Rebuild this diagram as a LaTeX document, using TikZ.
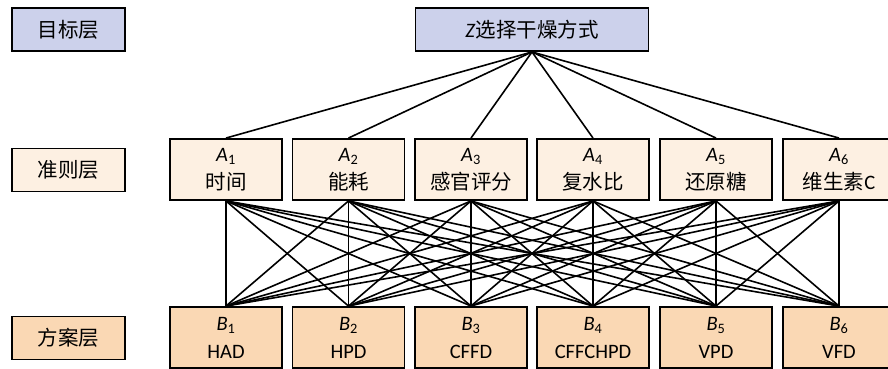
\documentclass[tikz,border=0pt]{standalone}
\usepackage{fontspec}
\setmainfont{Carlito}
\newfontfamily\cjk{Noto Sans CJK SC}
\definecolor{goalfill}{RGB}{204,209,235}
\definecolor{critfill}{RGB}{253,240,226}
\definecolor{altfill}{RGB}{250,216,180}
\begin{document}
\begin{tikzpicture}[x=1pt,y=-1pt,
  box/.style={draw=black,line width=1.9pt,inner sep=0pt,align=center,
    font=\fontsize{20.5}{28}\selectfont},
  lbl/.style={box,minimum width=113pt,minimum height=43pt},
  goal/.style={box,fill=goalfill,minimum width=233pt,minimum height=43pt},
  crit/.style={box,fill=critfill,minimum width=112pt,minimum height=61pt},
  alt/.style={box,fill=altfill,minimum width=112pt,minimum height=61pt},
  link/.style={line width=1.6pt,draw=black}]
\useasboundingbox (0,0) rectangle (888,369);
% left labels
\node[lbl,fill=goalfill] (lg) at (68.5,29.5) {\cjk 目标层};
\node[lbl,fill=critfill] (lc) at (68.5,170) {\cjk 准则层};
\node[lbl,fill=altfill] (la) at (68.5,338) {\cjk 方案层};
% goal
\node[goal] (Z) at (532,29.5) {\textit{Z}{\cjk 选择干燥方式}};
% criteria
\node[crit] (A1) at (226,169.5) {\textit{A}\textsubscript{1}\\{\cjk 时间}};
\node[crit] (A2) at (348.5,169.5) {\textit{A}\textsubscript{2}\\{\cjk 能耗}};
\node[crit] (A3) at (471,169.5) {\textit{A}\textsubscript{3}\\{\cjk 感官评分}};
\node[crit] (A4) at (593,169.5) {\textit{A}\textsubscript{4}\\{\cjk 复水比}};
\node[crit] (A5) at (716,169.5) {\textit{A}\textsubscript{5}\\{\cjk 还原糖}};
\node[crit] (A6) at (839,169.5) {\textit{A}\textsubscript{6}\\{\cjk 维生素}C};
% alternatives
\node[alt] (B1) at (226,337.5) {\textit{B}\textsubscript{1}\\HAD};
\node[alt] (B2) at (348.5,337.5) {\textit{B}\textsubscript{2}\\HPD};
\node[alt] (B3) at (471,337.5) {\textit{B}\textsubscript{3}\\CFFD};
\node[alt] (B4) at (593,337.5) {\textit{B}\textsubscript{4}\\CFFCHPD};
\node[alt] (B5) at (716,337.5) {\textit{B}\textsubscript{5}\\VPD};
\node[alt] (B6) at (839,337.5) {\textit{B}\textsubscript{6}\\VFD};
% links
\foreach \i in {1,...,6} {
  \draw[link] (Z.south) -- (A\i.north);
  \foreach \j in {1,...,6} {
    \draw[link] (A\i.south) -- (B\j.north);
  }
}
\end{tikzpicture}
\end{document}
